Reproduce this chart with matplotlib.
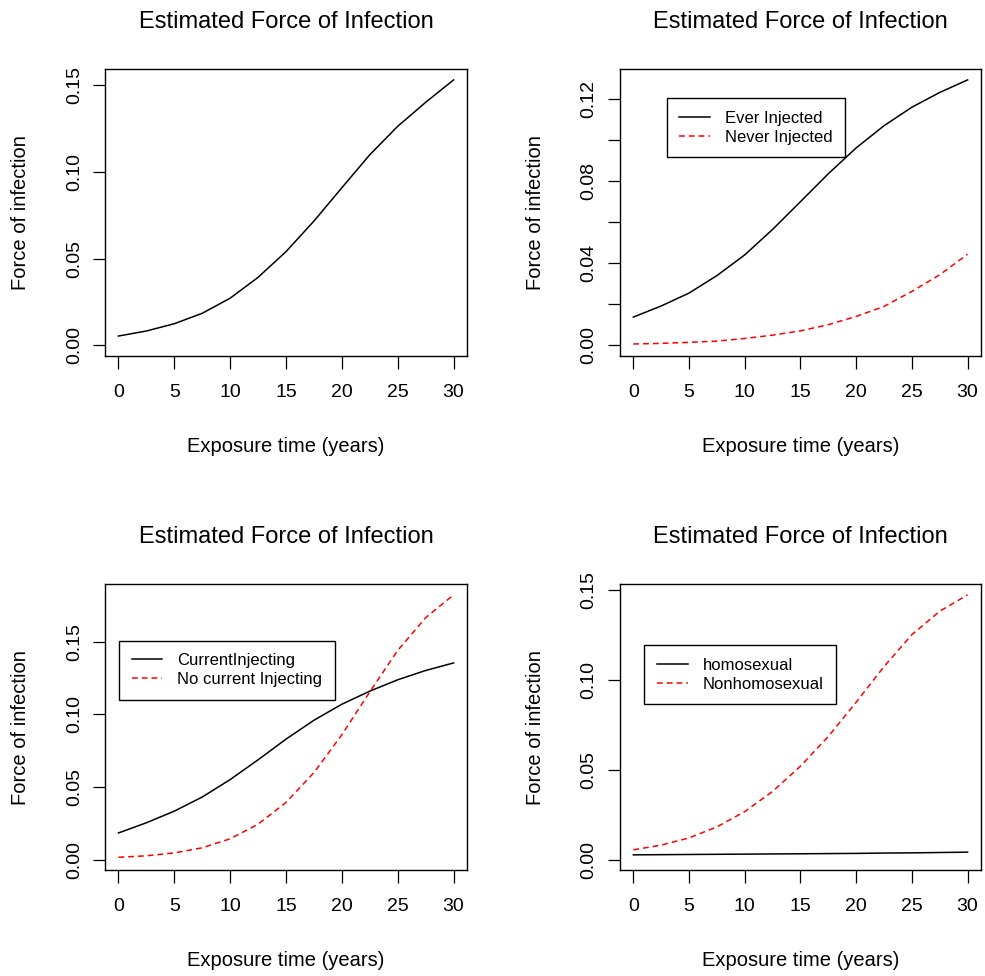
import matplotlib
matplotlib.use("Agg")
import matplotlib.pyplot as plt

plt.rcParams['font.family'] = ['Liberation Sans', 'DejaVu Sans']

# exposure time (years)
years = [0, 2.5, 5, 7.5, 10, 12.5, 15, 17.5, 20, 22.5, 25, 27.5, 30]

# panel 1: overall
overall = [0.0054, 0.0083, 0.0125, 0.0185, 0.0272, 0.0392, 0.0540,
           0.0716, 0.0908, 0.1098, 0.1262, 0.1400, 0.1529]

# panel 2
ever_injected = [0.0138, 0.0192, 0.0255, 0.0340, 0.0441, 0.0565, 0.0700,
                 0.0836, 0.0962, 0.1070, 0.1160, 0.1232, 0.1293]
never_injected = [0.0007, 0.0010, 0.0015, 0.0021, 0.0034, 0.0050, 0.0071,
                  0.0101, 0.0141, 0.0190, 0.0263, 0.0344, 0.0444]

# panel 3
current_inj = [0.0185, 0.0255, 0.0335, 0.0432, 0.0552, 0.0688, 0.0830,
               0.0960, 0.1070, 0.1160, 0.1238, 0.1302, 0.1354]
no_current_inj = [0.0018, 0.0028, 0.0048, 0.0083, 0.0145, 0.0245, 0.0395,
                  0.0600, 0.0860, 0.1155, 0.1440, 0.1665, 0.1822]

# panel 4
homosexual = [0.0028, 0.0029, 0.0030, 0.0031, 0.0032, 0.0033, 0.0034,
              0.0035, 0.0036, 0.0038, 0.0039, 0.0041, 0.0043]
nonhomosexual = [0.0056, 0.0082, 0.0122, 0.0183, 0.0268, 0.0380, 0.0520,
                 0.0685, 0.0875, 0.1073, 0.1250, 0.1380, 0.1471]

title = "Estimated Force of Infection"
xlabel = "Exposure time (years)"
ylabel = "Force of infection"
xticks = [0, 5, 10, 15, 20, 25, 30]

DASH = (0, (3.8, 2.6))


def draw_panel(ax, series, yticks, ylabels, legend_at=None):
    for values, label, color, ls in series:
        ax.plot(years, values, color=color, linestyle=ls, lw=1.1, label=label)

    ymax = max(max(s[0]) for s in series)
    pad = 0.04 * ymax
    ax.set_ylim(-pad, ymax + pad)
    ax.set_xlim(-1.2, 31.2)

    ax.set_xticks(xticks)
    ax.set_xticklabels([str(v) for v in xticks])
    ax.set_yticks(yticks)
    ax.set_yticklabels(ylabels, rotation=90, va='center')

    ax.tick_params(direction='out', length=9, width=0.9, labelsize=14)
    ax.tick_params(axis='x', pad=11)
    ax.tick_params(axis='y', pad=7)
    for sp in ax.spines.values():
        sp.set_linewidth(1.0)

    ax.annotate(title, xy=(0.5, 1), xycoords='axes fraction',
                xytext=(0, 29.5), textcoords='offset points',
                ha='center', va='baseline', fontsize=17)
    ax.annotate(xlabel, xy=(0.5, 0), xycoords='axes fraction',
                xytext=(0, -68.9), textcoords='offset points',
                ha='center', va='baseline', fontsize=14.5)
    ax.annotate(ylabel, xy=(0, 0.5), xycoords='axes fraction',
                xytext=(-61, 0), textcoords='offset points',
                ha='center', va='center', rotation=90, fontsize=14.5)

    if legend_at is not None:
        leg = ax.legend(loc='upper left', bbox_to_anchor=legend_at,
                        borderaxespad=0, fontsize=12, frameon=True,
                        fancybox=False, framealpha=1, edgecolor='black',
                        handlelength=1.85, handletextpad=0.9,
                        labelspacing=0.25, borderpad=0.75)
        leg.get_frame().set_linewidth(1.0)


fig = plt.figure(figsize=(9.85, 9.76), dpi=100)
ax1 = fig.add_axes([0.1066, 0.6352, 0.3675, 0.2938])
ax2 = fig.add_axes([0.6294, 0.6352, 0.3665, 0.2938])
ax3 = fig.add_axes([0.1066, 0.1081, 0.3675, 0.2933])
ax4 = fig.add_axes([0.6294, 0.1081, 0.3665, 0.2933])

t5 = [0.00, 0.05, 0.10, 0.15]
t5_lab = ["0.00", "0.05", "0.10", "0.15"]

draw_panel(ax1, [(overall, None, 'black', '-')], t5, t5_lab)

t2 = [0.00, 0.02, 0.04, 0.06, 0.08, 0.10, 0.12]
t2_lab = ["0.00", "", "0.04", "", "0.08", "", "0.12"]
draw_panel(ax2, [(ever_injected, "Ever Injected", 'black', '-'),
                 (never_injected, "Never Injected", 'red', DASH)],
           t2, t2_lab, legend_at=(0.129, 0.899))

draw_panel(ax3, [(current_inj, "CurrentInjecting", 'black', '-'),
                 (no_current_inj, "No current Injecting", 'red', DASH)],
           t5, t5_lab, legend_at=(0.0387, 0.803))

draw_panel(ax4, [(homosexual, "homosexual", 'black', '-'),
                 (nonhomosexual, "Nonhomosexual", 'red', DASH)],
           t5, t5_lab, legend_at=(0.0673, 0.787))

fig.savefig("out.png", dpi=100)
plt.close(fig)
